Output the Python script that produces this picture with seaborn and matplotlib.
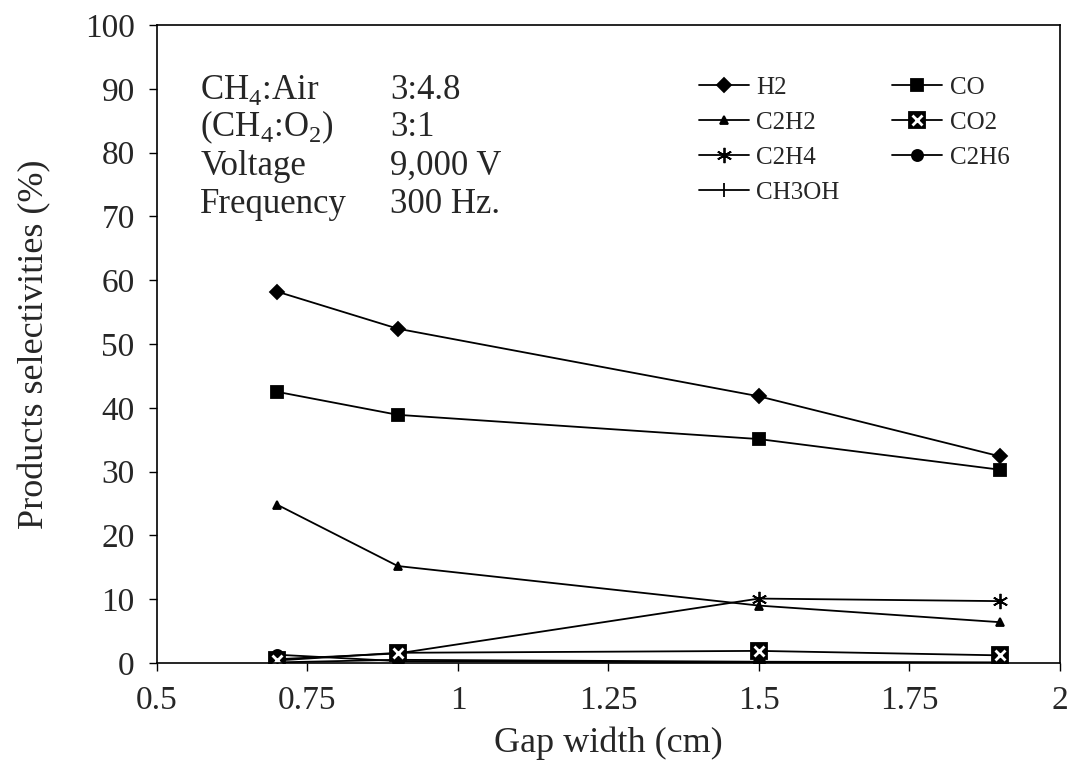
import pandas as pd
import matplotlib.pyplot as plt
import matplotlib.ticker as ticker
from matplotlib.legend_handler import HandlerTuple
import seaborn as sns

gap = [0.7, 0.9, 1.5, 1.9]
h2 = [58.2, 52.4, 41.8, 32.4]
co = [42.5, 38.9, 35.1, 30.3]
c2h2 = [24.8, 15.2, 9.0, 6.4]
co2 = [0.4, 1.6, 1.9, 1.2]
c2h4 = [0.6, 1.5, 10.1, 9.7]
c2h6 = [1.3, 0.3, 0.1, 0.0]
ch3oh = [0.1, 0.5, 0.2, 0.1]

series = [
    ('H2', h2, 'D', 7),
    ('CO', co, 's', 8),
    ('C2H2', c2h2, '^', 6),
    ('CO2', co2, 's', 11),
    ('C2H4', c2h4, (6, 2, 0), 11),
    ('C2H6', c2h6, 'o', 8),
    ('CH3OH', ch3oh, '|', 10),
]

sns.set_theme(style='ticks')
plt.rcParams['font.family'] = ['Liberation Serif', 'DejaVu Serif']
plt.rcParams['mathtext.fontset'] = 'custom'
plt.rcParams['mathtext.rm'] = 'Liberation Serif'

fig = plt.figure(figsize=(10.75, 7.74), dpi=100)
ax = fig.add_axes([0.146, 0.1434, 0.84, 0.8243])

handles = {}
for name, vals, mk, ms in series:
    df = pd.DataFrame({'gap': gap, 'val': vals})
    sns.lineplot(data=df, x='gap', y='val', ax=ax, color='black', lw=1.3,
                 marker=mk, markersize=ms, markeredgecolor='black',
                 markerfacecolor='black', markeredgewidth=1.3, legend=False)
    handles[name] = ax.lines[-1]

# white cross on the CO2 squares
df_co2 = pd.DataFrame({'gap': gap, 'val': co2})
sns.lineplot(data=df_co2, x='gap', y='val', ax=ax, lw=0, marker='x',
             markersize=7, markeredgecolor='white', markeredgewidth=2,
             legend=False)
co2_x = ax.lines[-1]

ax.set_xlim(0.5, 2)
ax.set_ylim(0, 100)
ax.xaxis.set_major_locator(ticker.MultipleLocator(0.25))
ax.yaxis.set_major_locator(ticker.MultipleLocator(10))
ax.xaxis.set_major_formatter(ticker.FormatStrFormatter('%g'))
ax.tick_params(axis='both', labelsize=24, direction='out', length=6,
               width=1, color='black')
ax.tick_params(axis='x', pad=10)
ax.tick_params(axis='y', pad=10)
for s in ax.spines.values():
    s.set_color('black')
    s.set_linewidth(1.2)

ax.set_xlabel('Gap width (cm)', fontsize=26, labelpad=8)
ax.set_ylabel('Products selectivities (%)', fontsize=26, labelpad=24)

labels_left = ['CH$_4$:Air', '(CH$_4$:O$_2$)', 'Voltage', 'Frequency']
labels_right = ['3:4.8', '3:1', '9,000 V', '300 Hz.']
rows_y = [0.898, 0.839, 0.778, 0.718]
for ly, a, b in zip(rows_y, labels_left, labels_right):
    ax.text(0.048, ly, a, transform=ax.transAxes, fontsize=25, va='center')
    ax.text(0.258, ly, b, transform=ax.transAxes, fontsize=25, va='center')

order = ['H2', 'C2H2', 'C2H4', 'CH3OH', 'CO', 'CO2', 'C2H6']
leg_handles = []
for n in order:
    if n == 'CO2':
        leg_handles.append((handles[n], co2_x))
    else:
        leg_handles.append(handles[n])
ax.legend(leg_handles, order, ncol=2, frameon=False, fontsize=18,
          loc='upper left', bbox_to_anchor=(0.575, 0.955),
          handlelength=2.0, handletextpad=0.3, columnspacing=2.1,
          labelspacing=0.5, handler_map={tuple: HandlerTuple(ndivide=1)})

fig.savefig('out.png', dpi=100)
